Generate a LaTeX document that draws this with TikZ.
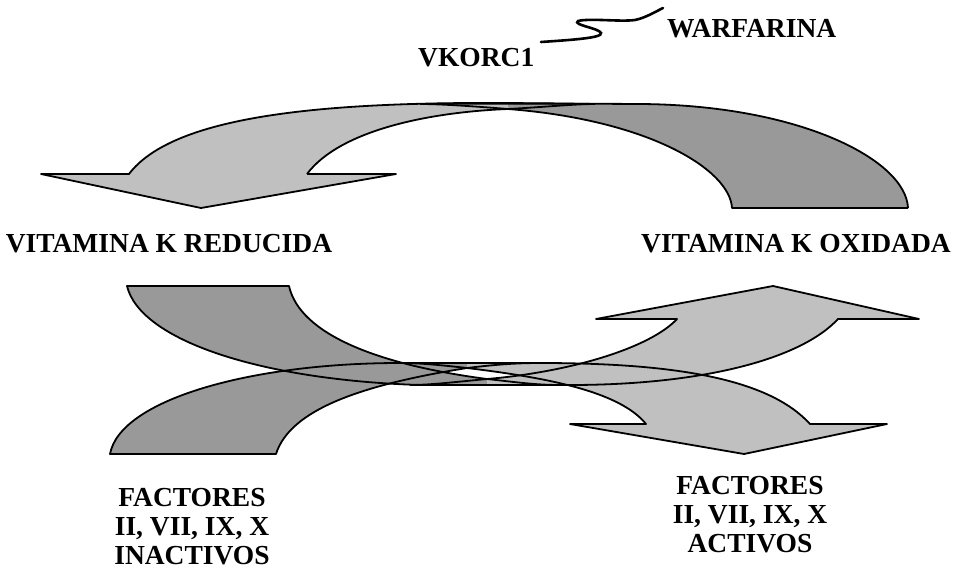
\documentclass[tikz,border=0pt]{standalone}
\usepackage{fontspec}
\setmainfont{Liberation Serif}
\definecolor{lightg}{HTML}{C0C0C0}
\definecolor{darkg}{HTML}{999999}
\begin{document}
\begin{tikzpicture}[x=1pt,y=-1pt,
  edge/.style={draw=black, line width=1.8pt, line join=round},
  lbl/.style={font=\bfseries\fontsize{27.5}{30}\selectfont, inner sep=0pt}]
\useasboundingbox (0,0) rectangle (970,568);

% ---------- top curved arrow ----------
\fill[lightg] (41,174) -- (201,208) -- (396,174) -- (307,174) .. controls (340,130) and (430,112) .. (508,109) -- (508,103) -- (470,103) .. controls (300,104) and (170,120) .. (129,174) -- cycle;
\fill[darkg] (908,208) -- (732,208) .. controls (730,170) and (650,120) .. (508,109) -- (508,103) -- (640,104) .. controls (800,105) and (906,160) .. (908,208) -- cycle;
\draw[edge] (908,208) -- (732,208) .. controls (730,170) and (650,120) .. (508,109) .. controls (470,106) and (440,104) .. (420,104);
\draw[edge] (908,208) .. controls (906,160) and (800,105) .. (640,104) .. controls (560,103.5) and (480,103.5) .. (420,104);
\draw[edge] (307,174) -- (396,174) -- (201,208) -- (41,174) -- (129,174) .. controls (170,120) and (300,104) .. (470,103) .. controls (530,103) and (570,103.5) .. (595,104);
\draw[edge] (307,174) .. controls (340,130) and (430,112) .. (508,109) .. controls (545,107) and (575,104) .. (595,104);

% ---------- bottom shapes: fills ----------
\fill[darkg] (127,286) -- (289,286) .. controls (300,335) and (380,365) .. (487,379) -- (487,385) -- (420,385) .. controls (260,380) and (140,340) .. (127,286) -- cycle;
\fill[lightg] (596,319) -- (773,286) -- (919,319) -- (838,319) .. controls (800,360) and (700,385) .. (570,385) -- (487,385) -- (487,379) .. controls (570,372) and (650,348) .. (677,319) -- cycle;
\fill[darkg] (110,454) -- (276,454) .. controls (290,410) and (360,385) .. (467,368) -- (467,363) -- (400,363) .. controls (250,363) and (120,400) .. (110,454) -- cycle;
\fill[lightg] (570,424) -- (744,454) -- (887,424) -- (810,424) .. controls (770,380) and (680,363) .. (540,363) -- (467,363) -- (467,368) .. controls (550,378) and (620,392) .. (646,424) -- cycle;

% ---------- bottom shapes: outlines ----------
\draw[edge] (560,385) -- (420,385) .. controls (260,380) and (140,340) .. (127,286) -- (289,286) .. controls (300,335) and (380,365) .. (487,379) .. controls (515,382) and (535,385) .. (560,385);
\draw[edge] (410,385) -- (570,385) .. controls (700,385) and (800,360) .. (838,319) -- (919,319) -- (773,286) -- (596,319) -- (677,319) .. controls (650,348) and (570,372) .. (487,379) .. controls (455,382) and (430,385) .. (410,385);
\draw[edge] (540,363) -- (400,363) .. controls (250,363) and (120,400) .. (110,454) -- (276,454) .. controls (290,410) and (360,385) .. (467,368) .. controls (500,364) and (520,363) .. (540,363);
\draw[edge] (400,363) -- (540,363) .. controls (680,363) and (770,380) .. (810,424) -- (887,424) -- (744,454) -- (570,424) -- (646,424) .. controls (620,392) and (550,378) .. (467,368) .. controls (440,365) and (420,363) .. (400,363);

% ---------- labels ----------
\node[lbl, anchor=base west] (vkorc) at (418,66) {VKORC1};
\node[lbl, anchor=base west] (warf) at (667,37) {WARFARINA};
\draw[line width=2.6pt, line cap=round] (541,42) .. controls (570,40) and (603,38) .. (601,33) .. controls (599,28) and (572,25) .. (578,21) .. controls (590,18) and (620,22) .. (635,20) .. controls (645,18) and (655,12) .. (663,8);

\node[lbl, anchor=base] (vkred) at (169,252) {VITAMINA K REDUCIDA};
\node[lbl, anchor=base] (vkox) at (796,252) {VITAMINA K OXIDADA};

\node[lbl, anchor=base] (fin1) at (192,506) {FACTORES};
\node[lbl, anchor=base] (fin2) at (192,535) {II, VII, IX, X};
\node[lbl, anchor=base] (fin3) at (192,564) {INACTIVOS};

\node[lbl, anchor=base] (fac1) at (750,494) {FACTORES};
\node[lbl, anchor=base] (fac2) at (750,523) {II, VII, IX, X};
\node[lbl, anchor=base] (fac3) at (750,552) {ACTIVOS};
\end{tikzpicture}
\end{document}
